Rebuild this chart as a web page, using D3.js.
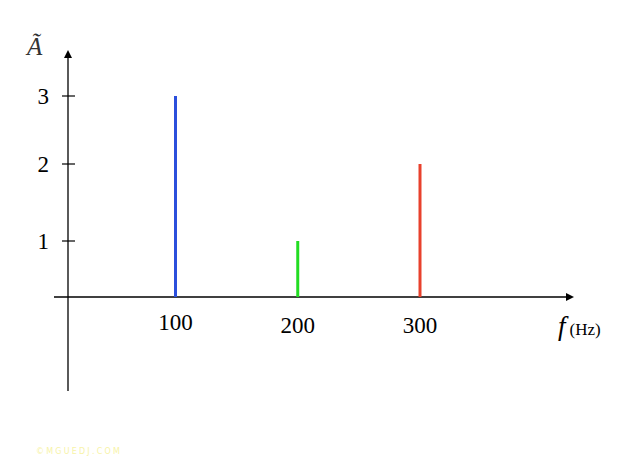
<!DOCTYPE html>
<html><head><meta charset="utf-8">
<script src="https://cdn.jsdelivr.net/npm/d3@7"></script>
<style>body{margin:0;background:#fff}svg{display:block}</style>
</head><body>
<script>
const frequencies = [100, 200, 300];
const amplitudes = [3, 1, 2];
const barColors = ["#2b4fdc", "#22dd22", "#e8412c"];
const yTickValues = [1, 2, 3];
const xTickValues = [100, 200, 300];

const W = 626, H = 469;
const svg = d3.select("body").append("svg").attr("width", W).attr("height", H);

// hand-drawn scale: piecewise linear
const y = d3.scaleLinear().domain([0, 1, 2, 3]).range([297, 241, 164, 96]);
const x = d3.scaleLinear().domain([100, 300]).range([175.5, 420]);
const x0 = 68, y0 = y(0);

const serif = "'Liberation Serif', 'DejaVu Serif', serif";

// axes
svg.append("line").attr("x1", 54).attr("x2", 568).attr("y1", y0).attr("y2", y0)
  .attr("stroke", "#000").attr("stroke-width", 1.3);
svg.append("path").attr("d", `M574,${y0} L566,${y0-4} L566,${y0+4} Z`).attr("fill", "#000");
svg.append("line").attr("x1", x0).attr("x2", x0).attr("y1", 391).attr("y2", 56)
  .attr("stroke", "#000").attr("stroke-width", 1.3);
svg.append("path").attr("d", `M${x0},50 L${x0-4},58 L${x0+4},58 Z`).attr("fill", "#000");

// y ticks
svg.selectAll(".ytick").data(yTickValues).join("line")
  .attr("x1", x0 - 6).attr("x2", x0 + 7)
  .attr("y1", d => y(d)).attr("y2", d => y(d))
  .attr("stroke", "#000").attr("stroke-width", 1.2);
svg.selectAll(".ylab").data(yTickValues).join("text")
  .attr("x", 49).attr("y", d => y(d) + 8)
  .attr("text-anchor", "end")
  .attr("font-family", serif).attr("font-size", 23)
  .text(d => d);

// x tick labels
const xOffsets = [0, 3, 3];
svg.selectAll(".xlab").data(xTickValues).join("text")
  .attr("x", d => x(d))
  .attr("y", (d, i) => y0 + 33 + xOffsets[i])
  .attr("text-anchor", "middle")
  .attr("font-family", serif).attr("font-size", 23)
  .text(d => d);

// bars
svg.selectAll(".bar").data(frequencies).join("line")
  .attr("x1", d => x(d)).attr("x2", d => x(d))
  .attr("y1", y0).attr("y2", (d, i) => y(amplitudes[i]))
  .attr("stroke", (d, i) => barColors[i]).attr("stroke-width", 3);

// axis labels
const fl = svg.append("text").attr("x", 558).attr("y", 335).attr("font-family", serif);
fl.append("tspan").attr("font-style", "italic").attr("font-size", 27).text("f");
fl.append("tspan").attr("font-size", 17).attr("dx", 4).text("(Hz)");

svg.append("text").attr("x", 27).attr("y", 55)
  .attr("font-family", serif).attr("font-style", "italic").attr("font-size", 25)
  .attr("fill", "#333").text("Ã");

// watermark
svg.append("text").attr("x", 36).attr("y", 454)
  .attr("font-family", "'DejaVu Sans', sans-serif").attr("font-size", 8)
  .attr("letter-spacing", 2.2).attr("fill", "#f7f3a8").text("©MGUEDJ.COM");
</script>
</body></html>
